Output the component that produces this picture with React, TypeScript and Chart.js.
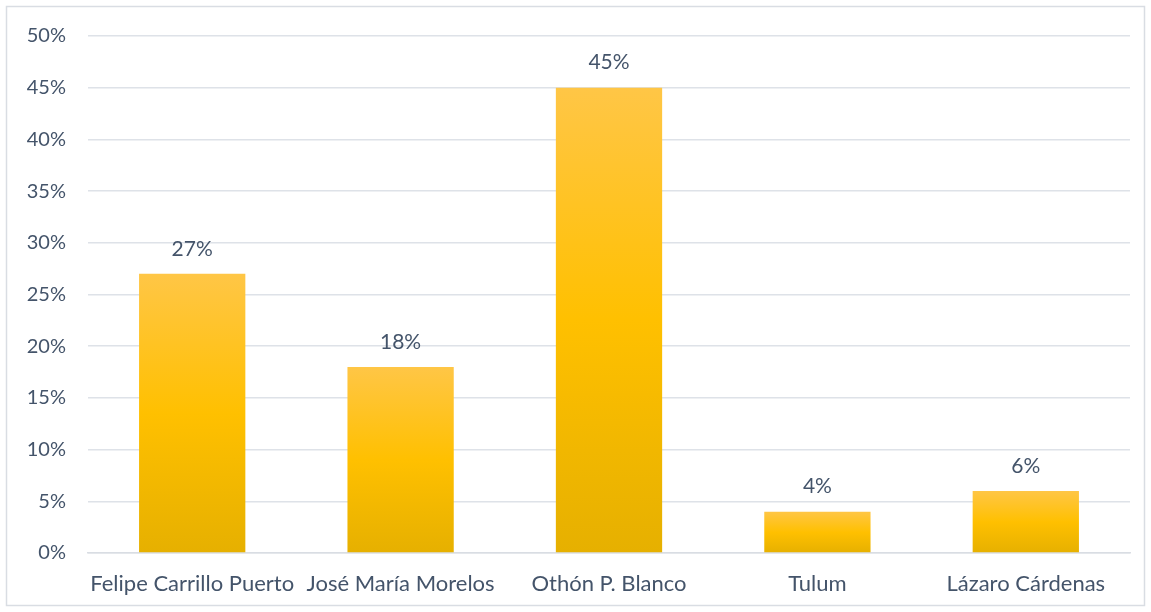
import React, { useEffect, useRef } from "react";
import { Chart, registerables } from "chart.js";

Chart.register(...registerables);

const categories = ["Felipe Carrillo Puerto", "José María Morelos", "Othón P. Blanco", "Tulum", "Lázaro Cárdenas"];
const values = [27, 18, 45, 4, 6];
const yTicks = [0, 5, 10, 15, 20, 25, 30, 35, 40, 45, 50];

const TEXT = "#44546A";
const FONT = "Lato, 'Open Sans', sans-serif";

const borderPlugin = {
  id: "outerBorder",
  beforeDraw(chart: any) {
    const ctx = chart.ctx;
    ctx.save();
    ctx.fillStyle = "#ffffff";
    ctx.fillRect(0, 0, chart.width, chart.height);
    ctx.strokeStyle = "#D9DDE3";
    ctx.lineWidth = 1.5;
    ctx.strokeRect(6.5, 6.5, chart.width - 13, chart.height - 13);
    ctx.restore();
  },
};

const labelPlugin = {
  id: "valueLabels",
  afterDatasetsDraw(chart: any) {
    const ctx = chart.ctx;
    const meta = chart.getDatasetMeta(0);
    ctx.save();
    ctx.fillStyle = TEXT;
    ctx.font = `21px ${FONT}`;
    ctx.textAlign = "center";
    ctx.textBaseline = "middle";
    meta.data.forEach((bar: any, i: number) => {
      ctx.fillText(`${values[i]}%`, bar.x, bar.y - 25);
    });
    ctx.restore();
  },
};

export default function App() {
  const ref = useRef<HTMLCanvasElement | null>(null);
  useEffect(() => {
    if (!ref.current) return;
    const chart = new Chart(ref.current, {
      type: "bar",
      data: {
        labels: categories,
        datasets: [
          {
            data: values,
            barPercentage: 0.51,
            categoryPercentage: 1,
            backgroundColor: (c: any) => {
              const ch = c.chart;
              const area = ch.chartArea;
              if (!area || c.dataIndex === undefined) return "#FFC000";
              const y = ch.scales.y;
              const top = y.getPixelForValue(values[c.dataIndex]);
              const bottom = y.getPixelForValue(0);
              const g = ch.ctx.createLinearGradient(0, top, 0, bottom);
              g.addColorStop(0, "#FFC646");
              g.addColorStop(0.5, "#FFC000");
              g.addColorStop(1, "#E6B000");
              return g;
            },
          },
        ],
      },
      options: {
        responsive: false,
        animation: false,
        layout: { padding: { top: 36, right: 21, bottom: 0, left: 0 } },
        plugins: { legend: { display: false }, tooltip: { enabled: false } },
        scales: {
          x: {
            grid: { display: false },
            border: { display: true, color: "#D9DDE3", width: 1.5 },
            ticks: { color: TEXT, font: { family: FONT, size: 22 }, padding: 10, maxRotation: 0, autoSkip: false },
            afterFit: (s: any) => {
              s.height = 59;
            },
          },
          y: {
            min: 0,
            max: 50,
            afterBuildTicks: (s: any) => {
              s.ticks = yTicks.map((v) => ({ value: v }));
            },
            grid: { color: "#DEE2E8", lineWidth: 1.5, drawTicks: false },
            border: { display: false },
            ticks: {
              color: TEXT,
              font: { family: FONT, size: 20 },
              padding: 22,
              callback: (v: any) => `${v}%`,
            },
            afterFit: (s: any) => {
              s.width = 88;
            },
          },
        },
      },
      plugins: [borderPlugin, labelPlugin],
    });
    return () => chart.destroy();
  }, []);
  return (
    <div style={{ position: "fixed", left: 0, top: 0, width: 1151, height: 612 }}>
      <canvas ref={ref} width={1151} height={612} style={{ width: 1151, height: 612 }} />
    </div>
  );
}
